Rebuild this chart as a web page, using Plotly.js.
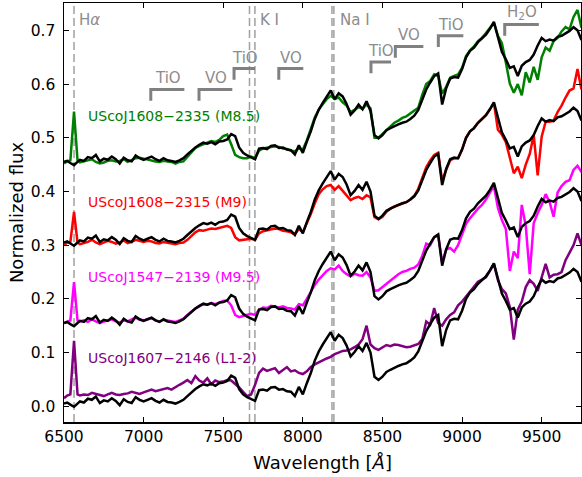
<!DOCTYPE html>
<html>
<head>
<meta charset="utf-8">
<script src="https://cdn.plot.ly/plotly-3.0.1.min.js"></script>
<style>html,body{margin:0;padding:0;background:#fff;}#chart{width:582px;height:477px;}</style>
</head>
<body>
<div id="chart"></div>
<script>
// Wavelength grid (Angstrom)
const wavelength = [6500,6520,6540,6563,6585,6600,6625,6650,6675,6700,6725,6750,6775,6800,6825,6850,6875,6900,6925,6950,6975,
7000,7025,7050,7075,7100,7125,7150,7175,7200,7225,7250,7275,7300,7325,7350,7375,7400,7425,7450,7475,
7500,7525,7550,7575,7600,7625,7650,7675,7700,7725,7750,7775,7800,7825,7850,7875,7900,7925,7950,7975,
8000,8025,8050,8075,8100,8125,8150,8175,8200,8225,8250,8275,8300,8325,8350,8375,8400,8425,8450,8475,
8500,8525,8550,8575,8600,8625,8650,8675,8700,8725,8750,8775,8800,8825,8850,8875,8900,8925,8950,8975,
9000,9025,9050,9075,9100,9125,9150,9175,9200,9225,9250,9275,9300,9325,9350,9375,9400,9425,9450,9475,
9500,9525,9550,9575,9600,9625,9650,9675,9700,9725,9750];

// Observed spectra (offset already included)
const fluxJ16082335 = [0.452,0.456,0.458,0.549,0.458,0.454,0.456,0.458,0.460,0.455,0.452,0.454,0.457,0.458,0.456,0.457,0.460,0.455,0.458,0.462,0.463,
0.461,0.460,0.458,0.456,0.455,0.457,0.456,0.455,0.452,0.455,0.456,0.464,0.474,0.481,0.485,0.488,0.490,0.494,0.492,0.496,
0.503,0.506,0.488,0.468,0.464,0.462,0.462,0.465,0.462,0.476,0.480,0.482,0.483,0.484,0.483,0.480,0.479,0.476,0.475,0.480,
0.478,0.495,0.515,0.538,0.553,0.563,0.572,0.578,0.572,0.575,0.566,0.560,0.548,0.552,0.557,0.554,0.562,0.555,0.500,0.500,
0.507,0.515,0.522,0.528,0.532,0.537,0.540,0.545,0.550,0.556,0.580,0.600,0.606,0.618,0.615,0.582,0.595,0.612,0.615,0.618,
0.630,0.652,0.663,0.670,0.680,0.686,0.695,0.704,0.714,0.690,0.676,0.640,0.601,0.584,0.600,0.579,0.622,0.603,0.632,0.608,
0.650,0.668,0.662,0.680,0.686,0.698,0.706,0.702,0.725,0.738,0.705];

const fluxJ16082315 = [0.300,0.305,0.306,0.362,0.305,0.302,0.304,0.306,0.310,0.305,0.302,0.305,0.308,0.306,0.303,0.305,0.309,0.304,0.306,0.310,0.308,
0.306,0.308,0.307,0.304,0.303,0.306,0.305,0.303,0.302,0.304,0.305,0.310,0.318,0.324,0.328,0.327,0.329,0.331,0.330,0.332,
0.334,0.336,0.332,0.315,0.309,0.310,0.311,0.312,0.310,0.322,0.326,0.328,0.330,0.331,0.330,0.327,0.326,0.324,0.320,0.330,
0.324,0.340,0.358,0.378,0.395,0.404,0.410,0.412,0.403,0.410,0.402,0.393,0.384,0.388,0.390,0.386,0.393,0.389,0.352,0.348,
0.353,0.362,0.368,0.372,0.375,0.378,0.380,0.385,0.392,0.405,0.425,0.445,0.458,0.468,0.472,0.420,0.440,0.458,0.462,0.462,
0.478,0.500,0.512,0.518,0.528,0.535,0.542,0.553,0.565,0.515,0.506,0.492,0.460,0.434,0.446,0.425,0.450,0.470,0.505,0.430,
0.502,0.530,0.530,0.532,0.548,0.560,0.575,0.588,0.592,0.628,0.590];

const fluxJ15472139 = [0.155,0.158,0.160,0.231,0.160,0.158,0.160,0.157,0.162,0.158,0.155,0.158,0.160,0.162,0.158,0.156,0.160,0.158,0.162,0.165,0.161,
0.160,0.162,0.164,0.160,0.158,0.161,0.160,0.158,0.157,0.160,0.163,0.170,0.176,0.182,0.186,0.190,0.189,0.192,0.190,0.193,
0.196,0.197,0.188,0.170,0.166,0.168,0.170,0.172,0.170,0.180,0.184,0.183,0.187,0.186,0.184,0.186,0.183,0.182,0.180,0.190,
0.188,0.200,0.214,0.226,0.236,0.245,0.252,0.257,0.255,0.262,0.252,0.246,0.242,0.247,0.244,0.243,0.250,0.240,0.215,0.216,
0.222,0.227,0.233,0.240,0.246,0.250,0.252,0.256,0.258,0.264,0.280,0.303,0.300,0.315,0.318,0.268,0.292,0.295,0.288,0.300,
0.320,0.340,0.350,0.360,0.368,0.375,0.385,0.398,0.410,0.370,0.347,0.330,0.252,0.288,0.276,0.375,0.336,0.246,0.341,0.360,
0.375,0.395,0.380,0.353,0.398,0.410,0.418,0.421,0.440,0.448,0.436];

const fluxJ16072146 = [0.015,0.020,0.022,0.122,0.022,0.020,0.022,0.021,0.025,0.023,0.020,0.019,0.022,0.025,0.022,0.021,0.023,0.024,0.027,0.025,0.023,
0.026,0.029,0.031,0.028,0.030,0.033,0.034,0.031,0.036,0.040,0.044,0.049,0.043,0.056,0.048,0.044,0.052,0.041,0.048,0.045,
0.046,0.049,0.048,0.042,0.035,0.027,0.019,0.022,0.040,0.062,0.070,0.066,0.068,0.071,0.062,0.068,0.073,0.065,0.067,0.062,
0.060,0.065,0.073,0.078,0.082,0.086,0.089,0.092,0.097,0.100,0.103,0.104,0.106,0.110,0.115,0.125,0.150,0.115,0.108,0.105,
0.110,0.114,0.112,0.115,0.114,0.112,0.110,0.111,0.113,0.116,0.125,0.158,0.152,0.183,0.155,0.150,0.162,0.170,0.175,0.188,
0.195,0.204,0.212,0.222,0.232,0.236,0.240,0.252,0.265,0.235,0.218,0.210,0.185,0.124,0.180,0.195,0.222,0.235,0.228,0.215,
0.240,0.265,0.240,0.245,0.246,0.250,0.272,0.285,0.300,0.322,0.300];

// Best-fit templates (black), as drawn for each object
const templateM85 = [0.455,0.457,0.453,0.449,0.455,0.459,0.457,0.464,0.462,0.468,0.456,0.461,0.459,0.465,0.460,0.452,0.463,0.458,0.456,0.467,0.462,
0.459,0.462,0.465,0.460,0.457,0.462,0.458,0.457,0.455,0.458,0.462,0.469,0.476,0.482,0.487,0.491,0.489,0.492,0.488,0.493,
0.494,0.497,0.507,0.503,0.482,0.472,0.467,0.464,0.460,0.480,0.481,0.479,0.485,0.486,0.481,0.482,0.478,0.477,0.469,0.486,
0.472,0.493,0.512,0.535,0.552,0.565,0.576,0.588,0.572,0.583,0.577,0.563,0.543,0.551,0.562,0.553,0.568,0.550,0.505,0.499,
0.505,0.514,0.518,0.522,0.525,0.528,0.530,0.535,0.541,0.552,0.572,0.590,0.603,0.615,0.620,0.562,0.592,0.610,0.613,0.612,
0.628,0.650,0.662,0.668,0.678,0.685,0.692,0.703,0.716,0.688,0.660,0.646,0.630,0.633,0.615,0.634,0.641,0.645,0.655,0.672,
0.686,0.680,0.683,0.681,0.688,0.690,0.695,0.699,0.706,0.700,0.682];

const templateM9 = [0.305,0.307,0.303,0.299,0.305,0.309,0.307,0.314,0.312,0.318,0.306,0.311,0.309,0.315,0.310,0.302,0.313,0.308,0.306,0.317,0.312,
0.309,0.312,0.315,0.310,0.307,0.312,0.308,0.307,0.305,0.308,0.312,0.319,0.326,0.332,0.337,0.341,0.339,0.342,0.338,0.343,
0.344,0.347,0.357,0.353,0.332,0.322,0.317,0.314,0.310,0.330,0.331,0.329,0.335,0.336,0.331,0.332,0.328,0.327,0.319,0.336,
0.322,0.343,0.362,0.385,0.402,0.415,0.426,0.438,0.422,0.433,0.427,0.413,0.393,0.401,0.412,0.403,0.418,0.400,0.355,0.349,
0.355,0.364,0.368,0.372,0.375,0.378,0.380,0.385,0.391,0.402,0.422,0.440,0.453,0.465,0.470,0.412,0.442,0.460,0.463,0.462,
0.478,0.500,0.512,0.518,0.528,0.535,0.542,0.553,0.566,0.538,0.510,0.496,0.480,0.483,0.465,0.484,0.491,0.495,0.505,0.522,
0.536,0.530,0.533,0.531,0.538,0.540,0.545,0.549,0.556,0.550,0.532];

const templateM95 = [0.155,0.157,0.153,0.149,0.155,0.159,0.157,0.164,0.162,0.168,0.156,0.161,0.159,0.165,0.160,0.152,0.163,0.158,0.156,0.167,0.162,
0.159,0.162,0.165,0.160,0.157,0.162,0.158,0.157,0.155,0.158,0.162,0.169,0.176,0.182,0.187,0.191,0.189,0.192,0.188,0.193,
0.194,0.197,0.207,0.203,0.182,0.172,0.167,0.164,0.160,0.180,0.181,0.179,0.185,0.186,0.181,0.182,0.178,0.177,0.169,0.186,
0.172,0.193,0.212,0.235,0.252,0.265,0.276,0.288,0.272,0.283,0.277,0.263,0.243,0.251,0.262,0.253,0.268,0.250,0.205,0.199,
0.205,0.214,0.218,0.222,0.225,0.228,0.230,0.235,0.241,0.252,0.272,0.290,0.303,0.315,0.320,0.262,0.292,0.310,0.313,0.312,
0.328,0.350,0.362,0.368,0.378,0.385,0.392,0.403,0.416,0.388,0.360,0.346,0.330,0.333,0.315,0.334,0.341,0.345,0.355,0.372,
0.386,0.380,0.383,0.381,0.388,0.390,0.395,0.399,0.406,0.400,0.382];

const templateL12 = [0.005,0.007,0.003,-0.001,0.005,0.009,0.007,0.014,0.012,0.018,0.006,0.011,0.009,0.015,0.010,0.002,0.013,0.008,0.006,0.017,0.012,
0.009,0.012,0.015,0.010,0.007,0.012,0.008,0.007,0.005,0.008,0.012,0.019,0.026,0.032,0.037,0.041,0.039,0.042,0.038,0.043,
0.044,0.047,0.057,0.053,0.032,0.022,0.017,0.014,0.010,0.030,0.031,0.029,0.035,0.036,0.031,0.032,0.028,0.027,0.019,0.036,
0.022,0.043,0.062,0.085,0.102,0.115,0.126,0.138,0.122,0.133,0.127,0.113,0.093,0.101,0.112,0.103,0.118,0.100,0.055,0.049,
0.055,0.064,0.068,0.072,0.075,0.078,0.080,0.085,0.091,0.102,0.122,0.140,0.153,0.165,0.170,0.112,0.142,0.160,0.163,0.162,
0.178,0.200,0.212,0.218,0.228,0.235,0.242,0.253,0.266,0.238,0.210,0.196,0.180,0.183,0.165,0.184,0.191,0.195,0.205,0.222,
0.236,0.230,0.233,0.231,0.238,0.240,0.245,0.249,0.256,0.250,0.232];

const objectNames = ["UScoJ1608\u22122335 (M8.5)","UScoJ1608\u22122315 (M9)","UScoJ1547\u22122139 (M9.5)","UScoJ1607\u22122146 (L1-2)"];
const objectColors = ["#008000","#ff0000","#ff00ff","#800080"];
const objectFlux = [fluxJ16082335, fluxJ16082315, fluxJ15472139, fluxJ16072146];
const templateFlux = [templateM85, templateM9, templateM95, templateL12];
const nameLabelY = [0.541, 0.381, 0.241, 0.090];

// Spectral features
const lineNames = ["H<i>\u03b1</i>","K I","Na I"];
const lineLabelX = [6580, 7717, 8221];
const lineWaves = [6563, 7665, 7699, 8183, 8195];

const bandNames = ["TiO","VO","TiO","VO","TiO","VO","TiO","H<sub>2</sub>O"];
const bandStart = [7045, 7348, 7568, 7849, 8428, 8581, 8851, 9268];
const bandEnd   = [7256, 7557, 7700, 8003, 8554, 8757, 9008, 9482];
const bandLevel = [0.590, 0.590, 0.629, 0.629, 0.641, 0.670, 0.690, 0.711];

const traces = [];
for (let i = 0; i < 4; i++) {
  traces.push({x: wavelength, y: objectFlux[i], type: 'scatter', mode: 'lines',
    line: {color: objectColors[i], width: 2.5}, hoverinfo: 'skip', name: objectNames[i]});
  traces.push({x: wavelength, y: templateFlux[i], type: 'scatter', mode: 'lines',
    line: {color: '#000000', width: 2.5}, hoverinfo: 'skip', name: 'template'});
}

const shapes = [];
lineWaves.forEach(w => shapes.push({type: 'line', xref: 'x', yref: 'paper', x0: w, x1: w, y0: 0, y1: 1,
  line: {color: '#a0a0a0', width: 1.5, dash: '8px,4px'}, layer: 'below'}));
const tickDrop = 0.021;
for (let i = 0; i < bandNames.length; i++) {
  shapes.push({type: 'path', xref: 'x', yref: 'y',
    path: `M ${bandStart[i]} ${bandLevel[i] - tickDrop} L ${bandStart[i]} ${bandLevel[i]} L ${bandEnd[i]} ${bandLevel[i]}`,
    line: {color: '#808080', width: 3}});
}

const annotations = [];
for (let i = 0; i < 3; i++) {
  annotations.push({x: lineLabelX[i], y: 0.719, xref: 'x', yref: 'y', text: lineNames[i], showarrow: false,
    xanchor: 'left', yanchor: 'middle', font: {size: 15, color: '#8c8c8c', family: 'DejaVu Sans'}});
}
for (let i = 0; i < bandNames.length; i++) {
  annotations.push({x: (bandStart[i] + bandEnd[i]) / 2, y: bandLevel[i], xref: 'x', yref: 'y', text: bandNames[i],
    showarrow: false, xanchor: 'center', yanchor: 'bottom', yshift: 0,
    font: {size: 15, color: '#8c8c8c', family: 'DejaVu Sans'}});
}
for (let i = 0; i < 4; i++) {
  annotations.push({x: 6640, y: nameLabelY[i], xref: 'x', yref: 'y', text: objectNames[i], showarrow: false,
    xanchor: 'left', yanchor: 'middle', font: {size: 14, color: objectColors[i], family: 'DejaVu Sans'}});
}

const layout = {
  width: 582, height: 477,
  margin: {l: 64, r: 1, t: 3, b: 55, pad: 0},
  paper_bgcolor: '#ffffff', plot_bgcolor: '#ffffff',
  showlegend: false,
  font: {family: 'DejaVu Sans', color: '#000000'},
  xaxis: {range: [6500, 9747], tickvals: [6500,7000,7500,8000,8500,9000,9500],
    ticktext: ['6500','7000','7500','8000','8500','9000','9500'],
    ticks: 'inside', ticklen: 5, tickwidth: 1, tickcolor: '#000', mirror: 'ticks',
    showline: true, linecolor: '#000', linewidth: 1.5, showgrid: false, zeroline: false,
    tickfont: {size: 15.5, family: 'DejaVu Sans'},
    title: {text: 'Wavelength [<i>\u00c5</i>]', font: {size: 18, family: 'DejaVu Sans'}, standoff: 11}},
  yaxis: {range: [-0.0293, 0.751], tickvals: [0,0.1,0.2,0.3,0.4,0.5,0.6,0.7],
    ticktext: ['0.0','0.1','0.2','0.3','0.4','0.5','0.6','0.7'],
    ticks: 'inside', ticklen: 5, tickwidth: 1, tickcolor: '#000', mirror: 'ticks',
    showline: true, linecolor: '#000', linewidth: 1.5, showgrid: false, zeroline: false,
    tickfont: {size: 15.5, family: 'DejaVu Sans'}, ticklabelstandoff: 4,
    title: {text: 'Normalized flux', font: {size: 18, family: 'DejaVu Sans'}, standoff: 2}},
  shapes: shapes,
  annotations: annotations
};

Plotly.newPlot('chart', traces, layout, {staticPlot: true, displayModeBar: false});
</script>
</body>
</html>
